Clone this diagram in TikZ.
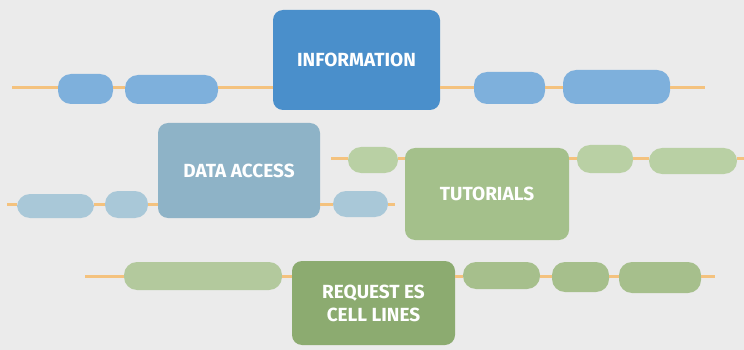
\documentclass[tikz,border=0pt]{standalone}
\usepackage{fontspec}
\setmainfont{Fira Sans}
\begin{document}
\begin{tikzpicture}[x=1pt,y=-1pt,
  conn/.style={draw=lineorange,line width=3pt},
  bigbox/.style={rounded corners=10pt,inner sep=0pt,text=white,font=\fontsize{19}{23}\selectfont\bfseries,align=center},
  pill/.style={rounded corners=13pt,inner sep=0pt},
]
\definecolor{bg}{HTML}{EBEBEB}
\definecolor{lineorange}{HTML}{F4C27E}
\definecolor{infoc}{HTML}{4A8FCB}
\definecolor{infop}{HTML}{7EB0DC}
\definecolor{dac}{HTML}{8EB3C7}
\definecolor{dap}{HTML}{A9C8D8}
\definecolor{tutc}{HTML}{A4C08B}
\definecolor{tutp}{HTML}{B9D0A4}
\definecolor{reqc}{HTML}{8CAB70}
\definecolor{reqp}{HTML}{A6BF8C}
\fill[bg] (0,0) rectangle (744,350);
\useasboundingbox (0,0) rectangle (744,350);

% row 1
\coordinate (r1s) at (12,88);
\coordinate (r1e) at (705,88);
\node[pill,fill=infop,minimum width=55pt,minimum height=30pt] (p1) at (85.5,89) {};
\node[pill,fill=infop,minimum width=93pt,minimum height=29pt] (p2) at (171.5,89.5) {};
\node[bigbox,fill=infoc,minimum width=167pt,minimum height=100pt] (info) at (356.5,60) {INFORMATION};
\node[pill,fill=infop,minimum width=71pt,minimum height=32pt] (p3) at (509.5,88) {};
\node[pill,fill=infop,minimum width=107pt,minimum height=34pt] (p4) at (616.5,87) {};

% row data access
\coordinate (r2s) at (7,204);
\coordinate (r2e) at (395,204);
\node[pill,fill=dap,minimum width=77pt,minimum height=24pt] (pa) at (55.5,206) {};
\node[pill,fill=dap,minimum width=43pt,minimum height=27pt] (pb) at (126.5,204.5) {};
\node[bigbox,fill=dac,minimum width=162pt,minimum height=95pt] (da) at (239,170.5) {DATA ACCESS};
\node[pill,fill=dap,minimum width=55pt,minimum height=26pt] (pc) at (360.5,204) {};

% row tutorials
\coordinate (r3s) at (331,158);
\coordinate (r3e) at (744,158);
\node[pill,fill=tutp,minimum width=50pt,minimum height=26pt] (pd) at (373,160) {};
\node[bigbox,fill=tutc,minimum width=164pt,minimum height=92pt] (tut) at (487,194) {TUTORIALS};
\node[pill,fill=tutp,minimum width=56pt,minimum height=28pt] (pe) at (605,159) {};
\node[pill,fill=tutp,minimum width=88pt,minimum height=26pt] (pf) at (693,161) {};

% row request
\coordinate (r4s) at (85,276);
\coordinate (r4e) at (715,276);
\node[pill,fill=reqp!85!white,minimum width=158pt,minimum height=28pt] (pg) at (203,276) {};
\node[bigbox,fill=reqc,minimum width=163pt,minimum height=84pt] (req) at (373.5,303) {REQUEST ES\\CELL LINES};
\node[pill,fill=reqp,minimum width=77pt,minimum height=27pt] (ph) at (501.5,275.5) {};
\node[pill,fill=reqp,minimum width=57pt,minimum height=30pt] (pi) at (580.5,277) {};
\node[pill,fill=reqp,minimum width=82pt,minimum height=31pt] (pj) at (660,277.5) {};

% connectors
\draw[conn] (r1s) -- (r1s -| p1.west);
\draw[conn] (p1.east |- r1s) -- (r1s -| p2.west);
\draw[conn] (p2.east |- r1s) -- (r1s -| info.west);
\draw[conn] (info.east |- r1s) -- (r1s -| p3.west);
\draw[conn] (p3.east |- r1e) -- (r1e -| p4.west);
\draw[conn] (p4.east |- r1e) -- (r1e);

\draw[conn] (r2s) -- (r2s -| pa.west);
\draw[conn] (pa.east |- r2s) -- (r2s -| pb.west);
\draw[conn] (pb.east |- r2s) -- (r2s -| da.west);
\draw[conn] (da.east |- r2s) -- (r2s -| pc.west);
\draw[conn] (pc.east |- r2e) -- (r2e);

\draw[conn] (r3s) -- (r3s -| pd.west);
\draw[conn] (pd.east |- r3s) -- (r3s -| tut.west);
\draw[conn] (tut.east |- r3s) -- (r3s -| pe.west);
\draw[conn] (pe.east |- r3s) -- (r3s -| pf.west);
\draw[conn] (pf.east |- r3e) -- (r3e);

\draw[conn] (r4s) -- (r4s -| pg.west);
\draw[conn] (pg.east |- r4s) -- (r4s -| req.west);
\draw[conn] (req.east |- r4s) -- (r4s -| ph.west);
\draw[conn] (ph.east |- r4s) -- (r4s -| pi.west);
\draw[conn] (pi.east |- r4s) -- (r4s -| pj.west);
\draw[conn] (pj.east |- r4e) -- (r4e);
\end{tikzpicture}
\end{document}
